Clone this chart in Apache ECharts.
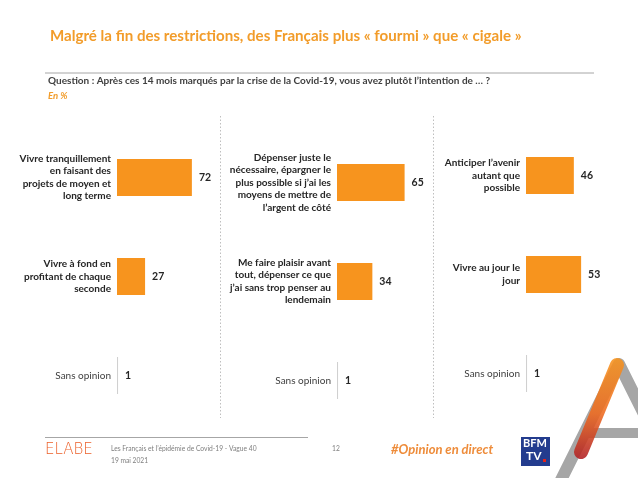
<!DOCTYPE html>
<html>
<head>
<meta charset="utf-8">
<script src="https://cdn.jsdelivr.net/npm/echarts@6/dist/echarts.min.js"></script>
<style>
html,body{margin:0;padding:0;background:#fff;}
#chart{width:638px;height:478px;}
</style>
</head>
<body>
<div id="chart"></div>
<script>
// ---- Data ----
const titleText = "Malgré la fin des restrictions, des Français plus « fourmi » que « cigale »";
const questionText = "Question : Après ces 14 mois marqués par la crise de la Covid-19, vous avez plutôt l’intention de … ?";
const unitText = "En %";

const panel1Categories = ["Vivre tranquillement\nen faisant des\nprojets de moyen et\nlong terme", "Vivre à fond en\nprofitant de chaque\nseconde", "Sans opinion"];
const panel1Values = [72, 27, 1];

const panel2Categories = ["Dépenser juste le\nnécessaire, épargner le\nplus possible si j’ai les\nmoyens de mettre de\nl’argent de côté", "Me faire plaisir avant\ntout, dépenser ce que\nj’ai sans trop penser au\nlendemain", "Sans opinion"];
const panel2Values = [65, 34, 1];

const panel3Categories = ["Anticiper l’avenir\nautant que\npossible", "Vivre au jour le\njour", "Sans opinion"];
const panel3Values = [46, 53, 1];

const footerSource = "Les Français et l’épidémie de Covid-19 - Vague 40";
const footerDate = "19 mai 2021";
const pageNumber = "12";
const hashtag = "#Opinion en direct";

// ---- Styles ----
const FONT = "Lato";
const ORANGE = "#F7941E";
const GREY_BAR = "#D0D0D0";

const panels = [
  {cats: panel1Categories, vals: panel1Values, left: 117, top: 128},
  {cats: panel2Categories, vals: panel2Values, left: 337, top: 133},
  {cats: panel3Categories, vals: panel3Values, left: 526, top: 126}
];

const grid = [], xAxis = [], yAxis = [], series = [];
panels.forEach((p, i) => {
  grid.push({left: p.left, top: p.top, width: 104, height: 297, containLabel: false});
  xAxis.push({type: 'value', gridIndex: i, min: 0, max: 100, show: false});
  yAxis.push({
    type: 'category', gridIndex: i, inverse: true, data: p.cats,
    axisLine: {show: false}, axisTick: {show: false}, splitLine: {show: false},
    axisLabel: {
      margin: 6,
      align: 'right',
      formatter: (v, idx) => idx === 2 ? '{n|' + v + '}' : v.split('\n').map(s => '{b|' + s + '}').join('\n'),
      rich: {
        b: {fontFamily: FONT, fontWeight: 'bold', fontSize: 10, lineHeight: 12.5, color: '#262626'},
        n: {fontFamily: FONT, fontWeight: 'normal', fontSize: 10, lineHeight: 12.5, color: '#404040'}
      }
    }
  });
  series.push({
    type: 'bar', xAxisIndex: i, yAxisIndex: i,
    barWidth: 37,
    data: p.vals.map((v, idx) => ({value: v, itemStyle: {color: idx === 2 ? GREY_BAR : ORANGE}})),
    label: {
      show: true, position: 'right', distance: 7,
      fontFamily: FONT, fontWeight: 'bold', fontSize: 10.5, color: '#262626'
    },
    silent: true
  });
});

const graphic = [
  // title
  {type: 'text', left: 50, top: 29, style: {text: titleText, font: 'bold 15.1px ' + FONT, fill: '#F29C2A'}},
  // header rule
  {type: 'line', shape: {x1: 45, y1: 73, x2: 594, y2: 73}, style: {stroke: '#A6A6A6', lineWidth: 1}},
  {type: 'text', left: 48, top: 76, style: {text: questionText, font: 'bold 10px ' + FONT, fill: '#404040'}},
  {type: 'text', left: 48, top: 91, style: {text: unitText, font: 'italic bold 9.5px ' + FONT, fill: '#F29C2A'}},
  // dotted separators
  {type: 'line', shape: {x1: 220.5, y1: 116, x2: 220.5, y2: 418}, style: {stroke: '#BFBFBF', lineWidth: 1, lineDash: [1.5, 2]}},
  {type: 'line', shape: {x1: 433.5, y1: 116, x2: 433.5, y2: 418}, style: {stroke: '#BFBFBF', lineWidth: 1, lineDash: [1.5, 2]}},
  // footer rule
  {type: 'line', shape: {x1: 45, y1: 437.5, x2: 308, y2: 437.5}, style: {stroke: '#A6A6A6', lineWidth: 1}},
  // ELABE logo
  {type: 'text', left: 45, top: 443, style: {text: 'ELABE', font: '200 15px "DejaVu Sans"', fill: '#EC602A'}},
  {type: 'text', left: 111, top: 445, style: {text: footerSource, font: '6.7px ' + FONT, fill: '#7F7F7F'}},
  {type: 'text', left: 111, top: 457, style: {text: footerDate, font: '6.7px ' + FONT, fill: '#7F7F7F'}},
  {type: 'text', left: 332, top: 445, style: {text: pageNumber, font: '6.7px ' + FONT, fill: '#7F7F7F'}},
  {type: 'text', left: 391, top: 443, style: {text: hashtag, font: 'italic bold 13px ' + FONT, fill: '#EE8C3A'}},
  // BFM TV logo
  {type: 'rect', shape: {x: 521, y: 437, width: 29, height: 29}, style: {fill: '#233C8E'}},
  {type: 'text', left: 523, top: 438, style: {text: 'BFM', font: 'bold 11px ' + FONT, fill: '#fff'}},
  {type: 'text', left: 526, top: 450, style: {text: 'TV', font: 'bold 12px ' + FONT, fill: '#fff'}},
  {type: 'rect', shape: {x: 543, y: 459, width: 3, height: 3}, style: {fill: '#E2231A'}},
  // big A mark
  {type: 'polyline', shape: {points: [[560, 482], [619, 364], [650, 426]]}, style: {stroke: '#A6A6A6', lineWidth: 12, fill: null, lineJoin: 'round'}},
  {type: 'rect', shape: {x: 586, y: 428, width: 60, height: 10}, style: {fill: '#A6A6A6'}},
  {type: 'line', shape: {x1: 617, y1: 365, x2: 581, y2: 452}, style: {stroke: new echarts.graphic.LinearGradient(0, 0, 0, 1, [{offset: 0, color: '#F7941E'}, {offset: 0.55, color: '#EE6A1F'}, {offset: 1, color: '#B01E23'}]), lineWidth: 14, lineCap: 'round', opacity: 0.88}}
];

const chart = echarts.init(document.getElementById('chart'), null, {renderer: 'canvas'});
chart.setOption({
  backgroundColor: '#fff',
  animation: false,
  grid, xAxis, yAxis, series, graphic
});
</script>
</body>
</html>
